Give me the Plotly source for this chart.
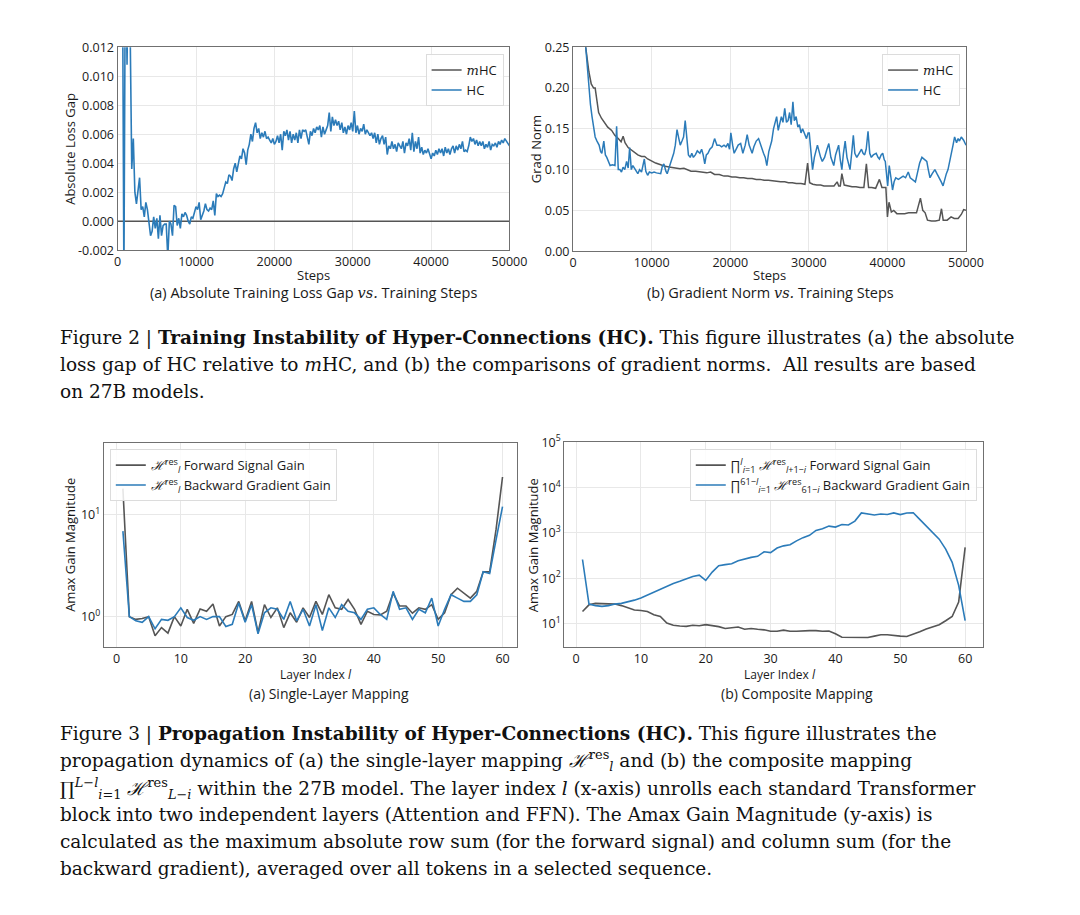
import plotly.graph_objects as go
import numpy as np

# ---------------- data ----------------
hc_gap = [
    0.030, 0.030, 0.026, 0.020, -0.004, 0.020, 0.0108, 0.020, 0.013,
    0.0036, 0.0057, 0.0020, 0.0012, 0.0022, 0.0030, 0.0008, 0.0010, 0.0003, 0.0013,
    0.0008, -0.0001, -0.0010, -0.0007, 0.0003, -0.0005, 0.0002, -0.0012, 0.0004, -0.0010,
    -0.0003, -0.0002, -0.0002, -0.0025, 0.0000, -0.0002, -0.0010, 0.0011, 0.0010, -0.0003,
    0.0002, -0.0005, 0.0005, 0.0003, 0.0006, 0.0004, 0.0000, -0.0002, 0.0003, 0.0002,
    0.0006, 0.0010, 0.0008, 0.0013, 0.0001, 0.0004, 0.0007, 0.0012, 0.0008, 0.0007,
    0.0009, 0.0008, 0.0014, 0.0004, 0.0019, 0.0017, 0.0018, 0.0017, 0.0019, 0.0023,
    0.0027, 0.0026, 0.0032, 0.0031, 0.0028, 0.0036, 0.0040, 0.0034, 0.0041, 0.0045,
    0.0043, 0.0050, 0.0047, 0.0039, 0.0049, 0.0053, 0.0060, 0.0055, 0.0064, 0.0068,
    0.0061, 0.0064, 0.0057, 0.0061, 0.0058, 0.0062, 0.0057, 0.0058, 0.0056, 0.0054,
    0.0057, 0.0053, 0.0055, 0.0059, 0.0054, 0.0060, 0.0049, 0.0062, 0.0059, 0.0063,
    0.0056, 0.0062, 0.0054, 0.0060, 0.0056, 0.0061, 0.0054, 0.0063, 0.0057, 0.0063,
    0.0062, 0.0063, 0.0058, 0.0053, 0.0062, 0.0059, 0.0064, 0.0061, 0.0065, 0.0063,
    0.0066, 0.0058, 0.0065, 0.0060, 0.0063, 0.0066, 0.0075, 0.0062, 0.0072, 0.0066,
    0.0070, 0.0066, 0.0069, 0.0063, 0.0068, 0.0061, 0.0065, 0.0060, 0.0066, 0.0063,
    0.0068, 0.0062, 0.0076, 0.0061, 0.0066, 0.0060, 0.0064, 0.0062, 0.0067, 0.0060,
    0.0063, 0.0061, 0.0059, 0.0061, 0.0057, 0.0061, 0.0054, 0.0060, 0.0053, 0.0057,
    0.0059, 0.0053, 0.0058, 0.0046, 0.0052, 0.0050, 0.0055, 0.0050, 0.0053, 0.0048,
    0.0054, 0.0052, 0.0050, 0.0055, 0.0047, 0.0054, 0.0052, 0.0057, 0.0049, 0.0061,
    0.0048, 0.0055, 0.0050, 0.0058, 0.0047, 0.0051, 0.0046, 0.0049, 0.0047, 0.0050,
    0.0046, 0.0043, 0.0047, 0.0045, 0.0049, 0.0046, 0.0050, 0.0047, 0.0050, 0.0045,
    0.0051, 0.0047, 0.0050, 0.0046, 0.0050, 0.0052, 0.0047, 0.0052, 0.0049, 0.0053,
    0.0050, 0.0055, 0.0048, 0.0049, 0.0048, 0.0052, 0.0058, 0.0055, 0.0057, 0.0053,
    0.0056, 0.0052, 0.0055, 0.0052, 0.0055, 0.0050, 0.0053, 0.0051, 0.0055, 0.0049,
    0.0053, 0.0052, 0.0054, 0.0051, 0.0055, 0.0053, 0.0056, 0.0054, 0.0057, 0.0055,
    0.0054, 0.0052,
]
gap_steps = list(np.linspace(0, 50000, len(hc_gap)))
mhc_gap = [0.0 for _ in gap_steps]

mhc_norm_steps = [0, 800, 1600, 2000, 2300, 2600, 2800, 3000, 3240, 3600, 4070, 4400, 4900, 5300, 5740,
                  6100, 6360, 6600, 7000, 7400, 7800, 8230, 8700, 9100, 9480, 10000, 10500, 11140, 11700,
                  12400, 13000, 13600, 14100, 14460, 15000, 15600, 16100, 16540, 17000, 17500, 18000,
                  18600, 19200, 19700, 20200, 20700, 21200, 21700, 22200, 22780, 23300, 23800, 24300,
                  24850, 25400, 25900, 26400, 26930, 27400, 27900, 28400, 29000, 29500, 29840, 30100,
                  30500, 31000, 31500, 31920, 32400, 32800, 33200, 33600, 33800, 34000, 34200, 34500,
                  35000, 35500, 36000, 36500, 37000, 37320, 37600, 38000, 38500, 38980, 39300, 39800,
                  40000, 40200, 40500, 40800, 41200, 41700, 42200, 42700, 43200, 43700, 44200, 44500,
                  44800, 45100, 45600, 46100, 46600, 46880, 47100, 47600, 48100, 48500, 49000, 49400,
                  49700, 50000]
mhc_norm = [0.45, 0.32, 0.25, 0.22, 0.205, 0.20, 0.20, 0.185, 0.17, 0.163, 0.157, 0.152, 0.148, 0.142, 0.138,
            0.134, 0.141, 0.133, 0.127, 0.124, 0.121, 0.118, 0.116, 0.116, 0.113, 0.110, 0.108, 0.106, 0.104,
            0.103, 0.102, 0.101, 0.1015, 0.100, 0.098, 0.098, 0.097, 0.097, 0.096, 0.097, 0.094,
            0.094, 0.092, 0.092, 0.091, 0.091, 0.090, 0.090, 0.089, 0.089, 0.088, 0.088, 0.087,
            0.087, 0.086, 0.085, 0.085, 0.085, 0.084, 0.084, 0.083, 0.083, 0.082, 0.108, 0.084,
            0.082, 0.081, 0.081, 0.080, 0.080, 0.080, 0.080, 0.085, 0.080, 0.080, 0.095, 0.081,
            0.080, 0.079, 0.079, 0.078, 0.078, 0.107, 0.078, 0.078, 0.077, 0.088, 0.078, 0.078,
            0.042, 0.060, 0.048, 0.050, 0.046, 0.046, 0.046, 0.047, 0.047, 0.047, 0.065, 0.050,
            0.047, 0.038, 0.037, 0.037, 0.038, 0.052, 0.038, 0.038, 0.042, 0.040, 0.040, 0.045,
            0.051, 0.050]

hc_norm_steps = [0, 800, 1600, 1900, 2200, 2400, 2600, 2800, 3030, 3300, 3500, 3650, 3900, 4100, 4280, 4500,
                 4700, 5000, 5320, 5530, 5740, 5950, 6150, 6350, 6570, 6800, 7000, 7190, 7400, 7600, 7810,
                 8000, 8230, 8450, 8700, 9060, 9250, 9480, 9700, 10000, 10300, 10600, 10900, 11140, 11350,
                 11550, 11800, 11970, 12400, 12800, 13000, 13220, 13450, 13630, 13850, 14050, 14260, 14450,
                 14670, 14900, 15100, 15300, 15550, 15800, 16130, 16350, 16550, 16750, 16950, 17160, 17400,
                 17700, 18000, 18300, 18620, 18900, 19200, 19450, 19700, 19900, 20070, 20300, 20490, 20750,
                 21000, 21320, 21600, 21900, 22150, 22400, 22600, 22780, 23000, 23300, 23600, 23900, 24230,
                 24450, 24650, 24900, 25100, 25270, 25500, 25700, 25900, 26100, 26300, 26500, 26700, 26930,
                 27150, 27350, 27550, 27750, 27970, 28150, 28380, 28600, 28800, 29000, 29200, 29430, 29700,
                 29900, 30050, 30470, 30700, 31090, 31300, 31500, 31710, 32000, 32300, 32540, 32800, 33000,
                 33170, 33400, 33600, 33790, 34000, 34200, 34400, 34620, 34850, 35000, 35240, 35450, 35660,
                 35850, 36100, 36400, 36700, 36900, 37100, 37300, 37530, 37750, 37950, 38200, 38570, 38800,
                 38980, 39200, 39400, 39600, 39730, 40030, 40230, 40450, 40650, 40850, 41060, 41400, 41700,
                 42000, 42310, 42650, 42900, 43200, 43560, 43800, 44100, 44390, 44700, 45010, 45200, 45420,
                 45700, 46040, 46300, 46600, 46850, 47080, 47300, 47500, 47710, 47950, 48130, 48350, 48550,
                 48800, 49000, 49170, 49400, 49700, 50000]
hc_norm = [0.45, 0.33, 0.25, 0.21, 0.18, 0.165, 0.15, 0.14, 0.135, 0.13, 0.122, 0.12, 0.135, 0.118, 0.115, 0.11,
           0.105, 0.106, 0.105, 0.153, 0.10, 0.10, 0.097, 0.103, 0.10, 0.11, 0.102, 0.127, 0.10, 0.105, 0.102,
           0.098, 0.095, 0.10, 0.097, 0.113, 0.098, 0.093, 0.097, 0.096, 0.097, 0.096, 0.095, 0.095, 0.104,
           0.107, 0.098, 0.095, 0.108, 0.12, 0.13, 0.149, 0.138, 0.13, 0.135, 0.14, 0.16, 0.135,
           0.118, 0.115, 0.12, 0.115, 0.118, 0.123, 0.12, 0.125, 0.118, 0.107, 0.118, 0.12, 0.125,
           0.128, 0.138, 0.13, 0.13, 0.128, 0.13, 0.128, 0.132, 0.125, 0.145, 0.13, 0.12, 0.125,
           0.13, 0.132, 0.12, 0.13, 0.143, 0.13, 0.125, 0.12, 0.128, 0.135, 0.138, 0.128, 0.12,
           0.115, 0.105, 0.122, 0.13, 0.135, 0.15, 0.158, 0.165, 0.148, 0.155, 0.165, 0.158, 0.175,
           0.158, 0.16, 0.17, 0.155, 0.183, 0.16, 0.165, 0.152, 0.155, 0.145, 0.15, 0.145, 0.138,
           0.145, 0.145, 0.10, 0.115, 0.13, 0.12, 0.115, 0.11, 0.115, 0.125, 0.132, 0.115, 0.11,
           0.105, 0.118, 0.125, 0.13, 0.112, 0.10, 0.12, 0.135, 0.115, 0.11, 0.10, 0.12, 0.142,
           0.12, 0.115, 0.12, 0.125, 0.12, 0.118, 0.125, 0.147, 0.12, 0.115, 0.118, 0.12, 0.115,
           0.113, 0.118, 0.12, 0.112, 0.11, 0.08, 0.105, 0.09, 0.075, 0.085, 0.09, 0.088, 0.09,
           0.092, 0.09, 0.097, 0.09, 0.088, 0.085, 0.095, 0.108, 0.115, 0.112, 0.11, 0.10, 0.09,
           0.095, 0.10, 0.095, 0.09, 0.085, 0.08, 0.09, 0.095, 0.10, 0.11, 0.12, 0.13, 0.14,
           0.133, 0.138, 0.135, 0.14, 0.136, 0.13]

layers = list(range(1, 61))
single_fwd = [18, 1.0, 0.94, 0.96, 1.0, 0.65, 0.78, 0.69, 1.0, 0.81,
              1.18, 0.86, 1.19, 1.13, 1.33, 0.81, 1.0, 1.05, 1.41, 0.91,
              1.41, 0.70, 1.31, 0.98, 1.22, 0.78, 1.09, 0.88, 1.22, 0.98,
              1.41, 1.05, 1.64, 1.22, 1.18, 1.47, 1.18, 0.84, 1.13, 1.05,
              1.04, 1.13, 1.70, 1.27, 1.27, 1.08, 1.22, 1.18, 1.31, 0.94,
              1.09, 1.64, 1.90, 1.70, 1.52, 1.77, 2.75, 2.75, 7.2, 23.4]
single_bwd = [6.9, 1.0, 0.91, 0.88, 1.0, 0.76, 0.94, 0.92, 1.0, 1.22,
              0.98, 0.92, 1.0, 0.94, 1.0, 1.0, 0.80, 0.84, 1.36, 0.88,
              1.31, 0.68, 1.09, 1.22, 1.18, 0.94, 1.41, 0.91, 1.18, 0.81,
              1.31, 0.73, 1.22, 0.98, 1.31, 1.13, 1.09, 0.94, 1.18, 1.22,
              1.05, 0.94, 1.77, 1.18, 1.22, 0.94, 1.18, 1.09, 1.52, 0.81,
              1.18, 1.64, 1.52, 1.41, 1.41, 1.64, 2.75, 2.65, 5.7, 12.0]
comp_fwd = [18.5, 26, 28, 28, 27, 27, 25, 22.6, 20, 19.5,
            18.5, 15.7, 14.4, 10.3, 9.2, 8.9, 8.7, 9.2, 9.0, 9.5,
            9.2, 8.6, 7.8, 8.0, 8.4, 7.5, 7.8, 7.5, 7.3, 6.8,
            6.8, 7.2, 6.8, 6.8, 7.0, 7.0, 7.0, 6.8, 6.9, 6.0,
            5.0, 5.0, 4.9, 5.0, 4.95, 5.3, 5.7, 5.7, 5.6, 5.3,
            5.2, 5.8, 6.6, 7.6, 8.6, 9.5, 11.6, 14.4, 30, 480]
comp_bwd = [260, 27, 25, 24, 25, 27, 28, 30, 33, 37,
            43, 50, 58, 65, 77, 86, 98, 110, 117, 90,
            137, 190, 200, 210, 245, 268, 290, 305, 385, 370,
            465, 520, 550, 670, 790, 890, 1140, 1240, 1420, 1350,
            1540, 1500, 1830, 2770, 2630, 2500, 2630, 2550, 2770, 2550,
            2770, 2800, 2000, 1420, 1020, 730, 440, 225, 70, 11.6]

gap_ticks = [-0.002, 0.0, 0.002, 0.004, 0.006, 0.008, 0.010, 0.012]
gap_ticktext = ["-0.002", "0.000", "0.002", "0.004", "0.006", "0.008", "0.010", "0.012"]
norm_ticks = [0.0, 0.05, 0.10, 0.15, 0.20, 0.25]
norm_ticktext = ["0.00", "0.05", "0.10", "0.15", "0.20", "0.25"]
step_ticks = [0, 10000, 20000, 30000, 40000, 50000]
step_ticktext = ["0", "10000", "20000", "30000", "40000", "50000"]
layer_ticks = [0, 10, 20, 30, 40, 50, 60]
log3_ticks = [1, 10]
log3_text = ["10<sup>0</sup>", "10<sup>1</sup>"]
log4_ticks = [10, 100, 1000, 10000, 100000]
log4_text = ["10<sup>1</sup>", "10<sup>2</sup>", "10<sup>3</sup>", "10<sup>4</sup>", "10<sup>5</sup>"]

# ---------------- style ----------------
W, H = 1080, 915
GRAY = "#555555"
BLUE = "#2b7bb9"
FRAME = "#707070"
GRID = "#e8e8e8"
TXT = "#1a1a1a"
FONT = "Open Sans"
SERIF = "DejaVu Serif"


def px(x):
    return x / W


def py(y):
    return 1 - y / H


fig = go.Figure()
M_HC = "<span style=\"font-family:'DejaVu Serif';font-style:italic\">m</span>HC"

fig.add_trace(go.Scatter(x=gap_steps, y=mhc_gap, mode="lines", name=M_HC,
                         line=dict(color=GRAY, width=1.6), xaxis="x", yaxis="y", legend="legend"))
fig.add_trace(go.Scatter(x=gap_steps, y=hc_gap, mode="lines", name="HC",
                         line=dict(color=BLUE, width=1.6), xaxis="x", yaxis="y", legend="legend"))
fig.add_trace(go.Scatter(x=mhc_norm_steps, y=mhc_norm, mode="lines", name=M_HC,
                         line=dict(color=GRAY, width=1.5), xaxis="x2", yaxis="y2", legend="legend2"))
fig.add_trace(go.Scatter(x=hc_norm_steps, y=hc_norm, mode="lines", name="HC",
                         line=dict(color=BLUE, width=1.5), xaxis="x2", yaxis="y2", legend="legend2"))
H_l = "<i>ℋ</i><sup>res</sup><sub><i>l</i></sub>"
fig.add_trace(go.Scatter(x=layers, y=single_fwd, mode="lines", name=H_l + " Forward Signal Gain",
                         line=dict(color=GRAY, width=1.6), xaxis="x3", yaxis="y3", legend="legend3"))
fig.add_trace(go.Scatter(x=layers, y=single_bwd, mode="lines", name=H_l + " Backward Gradient Gain",
                         line=dict(color=BLUE, width=1.6), xaxis="x3", yaxis="y3", legend="legend3"))
fig.add_trace(go.Scatter(x=layers, y=comp_fwd, mode="lines",
                         name="∏<sup><i>l</i></sup><sub><i>i</i>=1</sub> <i>ℋ</i><sup>res</sup><sub><i>l</i>+1−<i>i</i></sub> Forward Signal Gain",
                         line=dict(color=GRAY, width=1.6), xaxis="x4", yaxis="y4", legend="legend4"))
fig.add_trace(go.Scatter(x=layers, y=comp_bwd, mode="lines",
                         name="∏<sup>61−<i>l</i></sup><sub><i>i</i>=1</sub> <i>ℋ</i><sup>res</sup><sub>61−<i>i</i></sub> Backward Gradient Gain",
                         line=dict(color=BLUE, width=1.6), xaxis="x4", yaxis="y4", legend="legend4"))

axis_common = dict(showline=True, mirror=True, linecolor=FRAME, linewidth=1.3,
                   showgrid=True, gridcolor=GRID, gridwidth=1, zeroline=False,
                   ticks="", tickfont=dict(family=FONT, size=12.5, color=TXT))

fig.update_layout(
    width=W, height=H, autosize=False,
    margin=dict(l=0, r=0, t=0, b=0),
    paper_bgcolor="white", plot_bgcolor="white",
    font=dict(family=FONT, size=12, color=TXT),
    xaxis=dict(domain=[px(116), px(516)], range=[0, 50000], tickvals=step_ticks, ticktext=step_ticktext, anchor="y", **axis_common),
    yaxis=dict(domain=[py(245), py(38)], range=[-0.002, 0.012], tickvals=gap_ticks, ticktext=gap_ticktext, anchor="x", **axis_common),
    xaxis2=dict(domain=[px(581), px(982)], range=[0, 50000], tickvals=step_ticks, ticktext=step_ticktext, anchor="y2", **axis_common),
    yaxis2=dict(domain=[py(246), py(38)], range=[0, 0.25], tickvals=norm_ticks, ticktext=norm_ticktext, anchor="x2", **axis_common),
    xaxis3=dict(domain=[px(102), px(524)], range=[-1.95, 62.3], tickvals=layer_ticks, anchor="y3", **axis_common),
    yaxis3=dict(domain=[py(650), py(442)], type="log", range=[-0.30, 1.70], tickvals=log3_ticks, ticktext=log3_text, anchor="x3", **axis_common),
    xaxis4=dict(domain=[px(572), px(999)], range=[-1.8, 62.7], tickvals=layer_ticks, anchor="y4", **axis_common),
    yaxis4=dict(domain=[py(650), py(441)], type="log", range=[0.48, 5.0], tickvals=log4_ticks, ticktext=log4_text, anchor="x4", **axis_common),
    showlegend=True,
)

leg_common = dict(bgcolor="rgba(255,255,255,0.85)", bordercolor="#dcdcdc", borderwidth=1,
                  font=dict(family=FONT, size=13, color=TXT), itemwidth=30, traceorder="normal",
                  tracegroupgap=0)
fig.update_layout(
    legend=dict(x=px(510), y=py(45), xanchor="right", yanchor="top", **leg_common),
    legend2=dict(x=px(976), y=py(45), xanchor="right", yanchor="top", **leg_common),
    legend3=dict(x=px(108), y=py(448), xanchor="left", yanchor="top", **leg_common),
    legend4=dict(x=px(993), y=py(448), xanchor="right", yanchor="top", **leg_common),
)

ann = []


def add_text(x, y, text, size=13, family=FONT, angle=0, xanchor="center", color=TXT):
    ann.append(dict(x=px(x), y=py(y), xref="paper", yref="paper", text=text, showarrow=False,
                    xanchor=xanchor, yanchor="middle", textangle=angle,
                    font=dict(family=family, size=size, color=color)))


VS = "<span style=\"font-family:'DejaVu Serif';font-style:italic\">vs.</span>"
add_text(316, 270, "Steps")
add_text(781, 270, "Steps")
add_text(318, 678, "Layer Index <i>l</i>", size=12)
add_text(792, 678, "Layer Index <i>l</i>", size=12)
add_text(68, 142, "Absolute Loss Gap", angle=-90)
add_text(543, 142, "Grad Norm", angle=-90)
add_text(68, 546, "Amax Gain Magnitude", angle=-90)
add_text(540, 546, "Amax Gain Magnitude", angle=-90)
add_text(316, 288, "(a) Absolute Training Loss Gap " + VS + " Training Steps", size=14.5)
add_text(782, 288, "(b) Gradient Norm " + VS + " Training Steps", size=14.5)
add_text(332, 697, "(a) Single-Layer Mapping", size=14)
add_text(809, 697, "(b) Composite Mapping", size=14)

CAP = 18.5
fig2_lines = [
    "Figure 2 | <b>Training Instability of Hyper-Connections (HC).</b> This figure illustrates (a) the absolute",
    "loss gap of HC relative to <i>m</i>HC, and (b) the comparisons of gradient norms.  All results are based",
    "on 27B models.",
]
for i, t in enumerate(fig2_lines):
    add_text(55, 335 + 27 * i, t, size=CAP, family=SERIF, xanchor="left", color="#111111")

fig3_lines = [
    "Figure 3 | <b>Propagation Instability of Hyper-Connections (HC).</b> This figure illustrates the",
    "propagation dynamics of (a) the single-layer mapping <i>ℋ</i><sup>res</sup><sub><i>l</i></sub> and (b) the composite mapping",
    "∏<sup><i>L</i>−<i>l</i></sup><sub><i>i</i>=1</sub> <i>ℋ</i><sup>res</sup><sub><i>L</i>−<i>i</i></sub> within the 27B model. The layer index <i>l</i> (x-axis) unrolls each standard Transformer",
    "block into two independent layers (Attention and FFN). The Amax Gain Magnitude (y-axis) is",
    "calculated as the maximum absolute row sum (for the forward signal) and column sum (for the",
    "backward gradient), averaged over all tokens in a selected sequence.",
]
ys3 = [739, 766, 794, 821, 848, 876]
for t, y in zip(fig3_lines, ys3):
    add_text(55, y, t, size=CAP, family=SERIF, xanchor="left", color="#111111")

fig.update_layout(annotations=ann)
fig.write_html("out.html", config={"displayModeBar": False},
               post_script="document.body.style.margin='0';document.body.style.overflow='hidden';")
